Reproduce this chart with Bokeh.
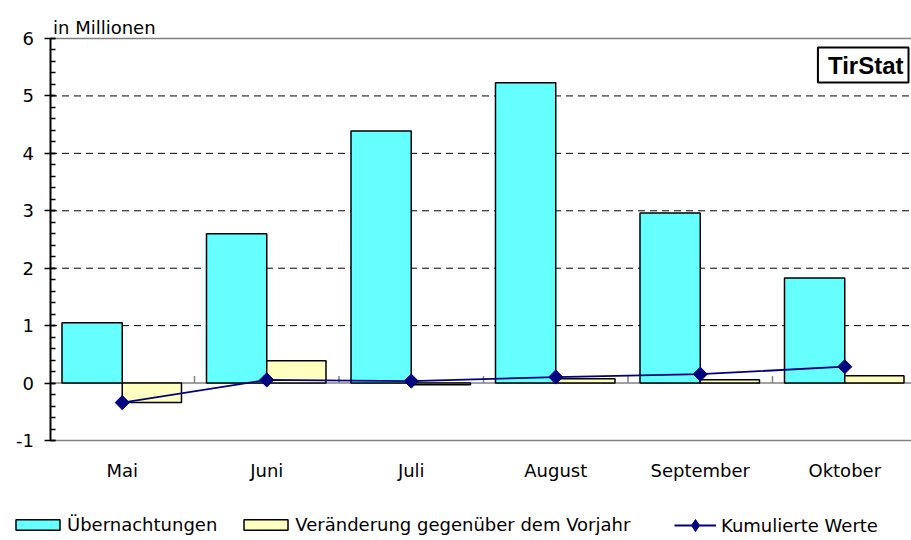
import numpy as np
from bokeh.plotting import figure
from bokeh.models import Range1d, FixedTicker, Label, Legend, LegendItem
from bokeh.embed import file_html
from bokeh.resources import INLINE

# ---- data ----
months = ["Mai", "Juni", "Juli", "August", "September", "Oktober"]
uebernachtungen = [1.05, 2.60, 4.39, 5.23, 2.96, 1.83]
veraenderung = [-0.34, 0.39, -0.03, 0.075, 0.057, 0.127]
kumuliert = [-0.34, 0.055, 0.035, 0.105, 0.155, 0.285]
y_ticks = [-1, 0, 1, 2, 3, 4, 5, 6]
y_unit_label = "in Millionen"
brand = "TirStat"
series_names = ["Übernachtungen", "Veränderung gegenüber dem Vorjahr", "Kumulierte Werte"]

FONT = "DejaVu Sans"
W, H = 911, 540
# layout (pixels): plot area left edge, top (y=6) and bottom (y=-1), category width
LEFT, TOP, BOTTOM, CAT = 49.5, 38.0, 440.0, 144.5
ypx = (BOTTOM - TOP) / (y_ticks[-1] - y_ticks[0])
x_start = -LEFT / CAT
x_end = (W - LEFT) / CAT
y_end = y_ticks[-1] + TOP / ypx
y_start = y_ticks[0] - (H - BOTTOM) / ypx

idx = np.arange(len(months), dtype=float)

p = figure(width=W, height=H, output_backend="svg", toolbar_location=None,
           x_range=Range1d(x_start, x_end), y_range=Range1d(y_start, y_end),
           min_border=0, min_border_left=0, min_border_right=0,
           min_border_top=0, min_border_bottom=0)
p.outline_line_color = None
p.background_fill_color = "white"
p.border_fill_color = "white"
p.xgrid.visible = False
p.ygrid.visible = False

# dashed gridlines 1..5, solid gray lines at -1, 0, 6
grid_vals = [t for t in y_ticks if 0 < t < y_ticks[-1]]
p.segment(x0=[0] * len(grid_vals), x1=[x_end] * len(grid_vals), y0=grid_vals, y1=grid_vals,
          line_color="black", line_width=1, line_dash="7 5", level="underlay")
solid_vals = [y_ticks[0], 0, y_ticks[-1]]
p.segment(x0=[0] * 3, x1=[x_end] * 3, y0=solid_vals, y1=solid_vals,
          line_color="#808080", line_width=1.5, level="underlay")

# category boundary ticks on zero line
bounds = idx[1:]
p.segment(x0=bounds, x1=bounds, y0=np.zeros_like(bounds), y1=np.full_like(bounds, 7 / ypx),
          line_color="#808080", line_width=1.5, level="underlay")

# bars
r1 = p.quad(left=idx + 0.083, right=idx + 0.5, bottom=0, top=uebernachtungen,
            fill_color="#66FFFF", line_color="black", line_width=1.5)
r2 = p.quad(left=idx + 0.5, right=idx + 0.91, bottom=0, top=veraenderung,
            fill_color="#FFFFC0", line_color="black", line_width=1.5)
r3 = p.line(idx + 0.5, kumuliert, line_color="#000080", line_width=1.8)
# diamond used for the legend symbol (hidden under the rotated squares)
r_leg = p.scatter(idx + 0.5, kumuliert, marker="diamond", size=12,
                  fill_color="#000080", line_color="#000080")
r4 = p.scatter(idx + 0.5, kumuliert, marker="square", angle=np.pi / 4, size=10,
               fill_color="#000080", line_color="#000080")

# x axis (category labels) fixed at y=-1
xa = p.xaxis[0]
xa.fixed_location = y_ticks[0]
xa.ticker = FixedTicker(ticks=list(idx + 0.5))
xa.major_label_overrides = {float(i + 0.5): m for i, m in enumerate(months)}
xa.axis_line_color = None
xa.major_tick_line_color = None
xa.minor_tick_line_color = None
xa.major_tick_out = 0
xa.major_tick_in = 0
xa.major_label_standoff = 19
xa.major_label_text_font = FONT
xa.major_label_text_font_size = "18px"
xa.major_label_text_color = "black"

# y axis fixed at x=0
ya = p.yaxis[0]
ya.fixed_location = 0
ya.bounds = (y_ticks[0], y_ticks[-1])
minor = [round(v, 2) for v in np.arange(y_ticks[0], y_ticks[-1] + 0.001, 0.2)]
ya.ticker = FixedTicker(ticks=y_ticks, minor_ticks=minor)
ya.major_label_overrides = {t: str(t) for t in y_ticks}
ya.axis_line_color = "black"
ya.axis_line_width = 2
ya.major_tick_line_color = "black"
ya.major_tick_line_width = 1.5
ya.major_tick_in = 5
ya.major_tick_out = 6
ya.minor_tick_line_color = "black"
ya.minor_tick_line_width = 1.5
ya.minor_tick_in = 5
ya.minor_tick_out = 0
ya.major_label_standoff = 10
ya.major_label_text_font = FONT
ya.major_label_text_font_size = "18px"
ya.major_label_text_color = "black"

# unit label
p.add_layout(Label(x=0, y=y_ticks[-1], x_offset=3, y_offset=11, text=y_unit_label,
                   text_font=FONT, text_font_size="18px", text_color="black",
                   text_baseline="alphabetic"))

# brand box
p.add_layout(Label(x=x_end, y=y_ticks[-1], x_offset=-3, y_offset=-9, text=brand,
                   text_font="Liberation Sans", text_font_size="24px", text_font_style="bold",
                   text_color="black", text_align="right", text_baseline="top",
                   background_fill_color="white", border_line_color="black",
                   border_line_width=2, padding=(10, 5, 4, 4)))

common = dict(orientation="horizontal", padding=0, margin=0, border_line_color=None,
              background_fill_alpha=0, label_text_font=FONT, label_text_font_size="18px",
              label_text_color="black", label_height=20)
legend1 = Legend(items=[LegendItem(label=series_names[0], renderers=[r1]),
                        LegendItem(label=series_names[1], renderers=[r2])],
                 location=(10, 5), glyph_width=55, glyph_height=13, label_standoff=2,
                 spacing=21, **common)
legend2 = Legend(items=[LegendItem(label=series_names[2], renderers=[r3, r_leg])],
                 location=(674, 0), glyph_width=42, glyph_height=30, label_standoff=5,
                 **common)
p.add_layout(legend1, "center")
p.add_layout(legend2, "center")

open("out.html", "w").write(file_html(p, INLINE))
